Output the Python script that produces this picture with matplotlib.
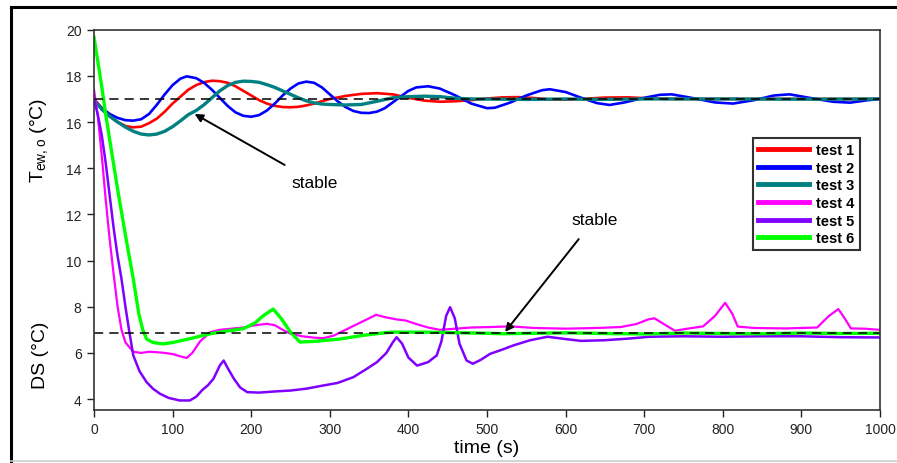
import matplotlib
matplotlib.use("Agg")
import matplotlib.pyplot as plt
from matplotlib.lines import Line2D

plt.rcParams['font.family'] = ['Liberation Sans', 'DejaVu Sans']
plt.rcParams['mathtext.fontset'] = 'custom'
plt.rcParams['mathtext.rm'] = 'Liberation Sans'

# ---------------- data ----------------
t1_x = [0, 10, 20, 30, 40, 50, 60, 70, 80, 90, 100, 110, 120, 130, 140, 150, 160, 170, 180, 190,
        200, 210, 220, 230, 240, 250, 260, 270, 280, 290, 300, 320, 340, 360, 380, 400, 420, 440,
        460, 480, 500, 520, 540, 560, 580, 600, 620, 650, 680, 710, 740, 800, 900, 1000]
t1_y = [17.0, 16.6, 16.25, 16.0, 15.83, 15.77, 15.8, 15.95, 16.15, 16.45, 16.8, 17.1, 17.4, 17.6,
        17.73, 17.79, 17.77, 17.7, 17.55, 17.35, 17.15, 16.95, 16.8, 16.7, 16.65, 16.64, 16.66,
        16.72, 16.8, 16.9, 17.0, 17.13, 17.22, 17.25, 17.2, 17.05, 16.93, 16.88, 16.9, 16.95,
        17.02, 17.07, 17.08, 17.04, 16.98, 16.97, 17.0, 17.06, 17.07, 17.02, 17.0, 17.0, 17.0, 17.0]

t2_x = [0, 10, 20, 30, 40, 50, 60, 70, 80, 90, 100, 110, 118, 130, 140, 150, 160, 170, 180, 190,
        200, 210, 220, 230, 240, 250, 260, 270, 280, 290, 300, 310, 320, 330, 340, 350, 360, 370,
        380, 390, 400, 410, 425, 440, 460, 480, 500, 510, 530, 550, 570, 580, 600, 620, 640, 656,
        675, 700, 720, 735, 760, 790, 813, 840, 865, 885, 910, 940, 962, 985, 1000]
t2_y = [16.95, 16.6, 16.35, 16.18, 16.08, 16.06, 16.12, 16.35, 16.75, 17.2, 17.6, 17.88, 17.98,
        17.9, 17.7, 17.4, 17.05, 16.7, 16.42, 16.27, 16.23, 16.3, 16.5, 16.8, 17.15, 17.45, 17.67,
        17.75, 17.7, 17.5, 17.2, 16.9, 16.65, 16.48, 16.4, 16.39, 16.45, 16.6, 16.85, 17.1, 17.35,
        17.5, 17.55, 17.45, 17.15, 16.8, 16.6, 16.62, 16.85, 17.15, 17.38, 17.42, 17.3, 17.05,
        16.82, 16.74, 16.85, 17.05, 17.18, 17.2, 17.05, 16.85, 16.8, 16.95, 17.15, 17.2, 17.05,
        16.88, 16.84, 16.95, 17.0]

t3_x = [0, 10, 20, 30, 40, 50, 60, 70, 80, 90, 100, 110, 120, 130, 140, 150, 160, 170, 180, 190,
        200, 210, 220, 230, 240, 250, 260, 270, 280, 290, 300, 320, 340, 360, 380, 400, 420, 440,
        460, 480, 550, 600, 650, 700, 800, 900, 1000]
t3_y = [16.95, 16.55, 16.25, 16.0, 15.78, 15.6, 15.48, 15.44, 15.48, 15.6, 15.8, 16.05, 16.32,
        16.5, 16.75, 17.05, 17.35, 17.58, 17.72, 17.77, 17.76, 17.72, 17.62, 17.5, 17.35, 17.2,
        17.05, 16.92, 16.83, 16.78, 16.76, 16.74, 16.76, 16.9, 17.05, 17.1, 17.12, 17.1, 17.03,
        17.0, 16.98, 17.0, 16.98, 17.0, 17.0, 16.99, 17.0]

t4_x = [0, 5, 10, 15, 20, 25, 30, 35, 40, 50, 60, 70, 80, 90, 100, 110, 118, 125, 135, 148, 160,
        175, 190, 205, 220, 230, 240, 250, 265, 280, 292, 305, 320, 335, 350, 359, 370, 385, 397,
        410, 425, 440, 460, 480, 504, 530, 560, 600, 640, 670, 690, 705, 713, 725, 739, 755, 775,
        790, 803, 812, 819, 840, 880, 920, 935, 947, 955, 963, 980, 1000]
t4_y = [17.4, 16.2, 14.5, 12.6, 10.9, 9.4, 8.0, 7.0, 6.45, 6.05, 6.0, 6.05, 6.03, 6.0, 5.95, 5.85,
        5.78, 6.0, 6.5, 6.9, 7.0, 7.05, 7.1, 7.2, 7.26, 7.2, 7.0, 6.83, 6.72, 6.66, 6.64, 6.75, 7.0,
        7.25, 7.5, 7.65, 7.55, 7.45, 7.4, 7.25, 7.1, 7.0, 7.05, 7.1, 7.12, 7.15, 7.08, 7.05, 7.08,
        7.12, 7.25, 7.45, 7.5, 7.25, 6.96, 7.05, 7.15, 7.6, 8.17, 7.7, 7.14, 7.08, 7.06, 7.1, 7.6,
        7.9, 7.5, 7.06, 7.05, 7.0]

t5_x = [0, 5, 10, 15, 20, 25, 30, 35, 40, 45, 50, 58, 67, 75, 84, 95, 109, 122, 130, 138, 145,
        152, 160, 165, 170, 178, 186, 195, 210, 230, 250, 270, 292, 310, 330, 347, 360, 372, 380,
        385, 392, 400, 411, 425, 436, 442, 448, 453, 459, 465, 474, 482, 492, 504, 520, 534, 555,
        577, 600, 620, 650, 680, 707, 750, 800, 850, 900, 950, 1000]
t5_y = [17.0, 16.3, 15.4, 14.2, 12.8, 11.4, 10.2, 9.2, 8.0, 6.9, 5.89, 5.2, 4.73, 4.45, 4.23, 4.05,
        3.94, 3.94, 4.1, 4.4, 4.6, 4.88, 5.45, 5.67, 5.35, 4.88, 4.5, 4.3, 4.28, 4.33, 4.37, 4.45,
        4.59, 4.7, 4.95, 5.31, 5.6, 6.0, 6.45, 6.68, 6.4, 5.8, 5.45, 5.6, 5.89, 6.5, 7.6, 7.98,
        7.5, 6.4, 5.67, 5.53, 5.7, 5.96, 6.15, 6.33, 6.55, 6.7, 6.6, 6.52, 6.55, 6.62, 6.7, 6.72,
        6.7, 6.72, 6.72, 6.68, 6.67]

t6_x = [0, 5, 10, 15, 22, 30, 40, 50, 57, 62, 67, 75, 88, 100, 120, 148, 170, 190, 205, 215, 228,
        238, 250, 262, 280, 313, 340, 377, 420, 500, 520, 560, 600, 650, 700, 750, 800, 850, 900,
        950, 1000]
t6_y = [19.67, 18.6, 17.5, 16.3, 14.8, 13.1, 11.1, 9.2, 7.7, 7.0, 6.6, 6.45, 6.39, 6.45, 6.6, 6.83,
        6.95, 7.05, 7.3, 7.6, 7.9, 7.5, 6.9, 6.47, 6.5, 6.6, 6.75, 6.9, 6.9, 6.85, 6.83, 6.85,
        6.87, 6.84, 6.82, 6.86, 6.84, 6.83, 6.86, 6.84, 6.85]

series = [("test 1", t1_x, t1_y, "#FF0000", 1.9),
          ("test 2", t2_x, t2_y, "#0000FF", 1.9),
          ("test 3", t3_x, t3_y, "#008080", 2.4),
          ("test 4", t4_x, t4_y, "#FF00FF", 1.6),
          ("test 5", t5_x, t5_y, "#8000FF", 1.8),
          ("test 6", t6_x, t6_y, "#00FF00", 2.4)]

ref_upper = 17.0
ref_lower = 6.85
x_ticks = [0, 100, 200, 300, 400, 500, 600, 700, 800, 900, 1000]
y_ticks = [4, 6, 8, 10, 12, 14, 16, 18, 20]

# ---------------- figure ----------------
fig = plt.figure(figsize=(8.97, 4.64), dpi=100)
ax = fig.add_axes([94 / 897, 1 - 410.7 / 464, (880 - 94) / 897, (410.7 - 30.7) / 464])

for name, xs, ys, c, lw in series:
    ax.plot(xs, ys, color=c, lw=lw, label=name, solid_joinstyle='round')

ax.axhline(ref_upper, color='black', lw=1.1, ls=(0, (6, 4)))
ax.axhline(ref_lower, color='black', lw=1.1, ls=(0, (6, 4)))

ax.set_xlim(0, 1000)
ax.set_ylim(3.54, 20)
ax.set_xticks(x_ticks)
ax.set_yticks(y_ticks)
ax.tick_params(direction='out', length=5, width=1.0, labelsize=10, colors='#222222', pad=4)
for s in ax.spines.values():
    s.set_color('#333333')
    s.set_linewidth(1.2)

ax.set_xlabel("time (s)", fontsize=14, labelpad=2)

fig.text(40 / 897, 1 - 140 / 464, r"T$_{\mathrm{ew,o}}$ (°C)", rotation=90, fontsize=14,
         ha='center', va='center')
fig.text(40 / 897, 1 - 355 / 464, "DS (°C)", rotation=90, fontsize=14,
         ha='center', va='center')

leg = ax.legend(loc='upper left', bbox_to_anchor=(0.838, 0.715),
                prop={'weight': 'bold', 'size': 10.5}, frameon=True, fancybox=False,
                handlelength=3.5, labelspacing=0.25, borderpad=0.35, handletextpad=0.5,
                borderaxespad=0)
leg.get_frame().set_edgecolor('black')
leg.get_frame().set_linewidth(1.5)
for h in leg.get_lines():
    h.set_linewidth(3.5)

ax.annotate("stable", xy=(128, 16.35), xytext=(281, 13.4), fontsize=12.5,
            ha='center', va='center',
            arrowprops=dict(arrowstyle='-|>', color='black', lw=1.4,
                            shrinkA=10, shrinkB=0, mutation_scale=12))
ax.annotate("stable", xy=(523, 6.91), xytext=(637, 11.8), fontsize=12.5,
            ha='center', va='center',
            arrowprops=dict(arrowstyle='-|>', color='black', lw=1.4,
                            shrinkA=9, shrinkB=0, mutation_scale=12))

# outer border of the figure
fig.add_artist(Line2D([11 / 897, 11 / 897], [0, 1 - 8 / 464], color='black', lw=2.2,
                      transform=fig.transFigure))
fig.add_artist(Line2D([11 / 897, 1.0], [1 - 8 / 464, 1 - 8 / 464], color='black', lw=2.2,
                      transform=fig.transFigure))
fig.add_artist(Line2D([11 / 897, 1.0], [1 - 461.5 / 464, 1 - 461.5 / 464], color='#cccccc',
                      lw=1.2, transform=fig.transFigure))

fig.savefig("out.png", dpi=100)
